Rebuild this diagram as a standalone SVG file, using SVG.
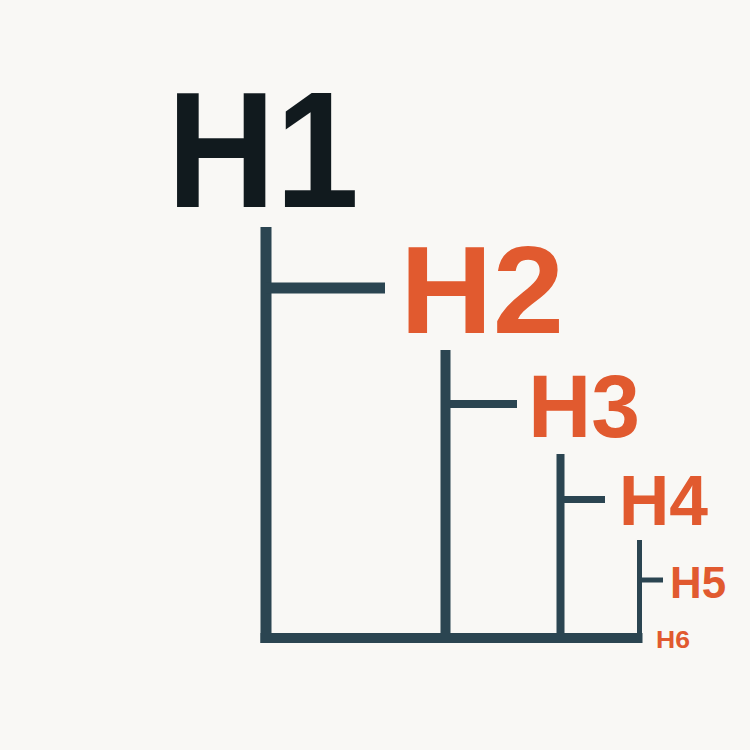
<svg xmlns="http://www.w3.org/2000/svg" width="750" height="750" viewBox="0 0 750 750">
<style>
.ln{stroke:#2b4551;fill:none;stroke-linecap:butt}
.t{font-family:"Liberation Sans",Arial,sans-serif;font-weight:bold}
.o{fill:#e15a2f}
</style>
<rect width="750" height="750" fill="#f9f8f5"/>
<g id="connectors">
<line class="ln" x1="266" y1="227" x2="266" y2="643" stroke-width="11"/>
<line class="ln" x1="266" y1="288" x2="385" y2="288" stroke-width="11"/>
<line class="ln" x1="445.5" y1="350" x2="445.5" y2="643" stroke-width="10"/>
<line class="ln" x1="445" y1="404" x2="517" y2="404" stroke-width="8"/>
<line class="ln" x1="560.5" y1="454" x2="560.5" y2="643" stroke-width="8"/>
<line class="ln" x1="560" y1="499.5" x2="605" y2="499.5" stroke-width="7"/>
<line class="ln" x1="639.5" y1="540" x2="639.5" y2="643" stroke-width="5"/>
<line class="ln" x1="639" y1="580" x2="663" y2="580" stroke-width="5"/>
<line class="ln" x1="260.5" y1="638" x2="642.5" y2="638" stroke-width="10"/>
</g>
<g id="h1"><text class="t" x="167" y="207" font-size="165" fill="#111a1e" textLength="192" lengthAdjust="spacingAndGlyphs">H1</text></g>
<g id="h2"><text class="t o" x="400" y="333" font-size="124" textLength="164" lengthAdjust="spacingAndGlyphs">H2</text></g>
<g id="h3"><text class="t o" x="528" y="437" font-size="89" textLength="112" lengthAdjust="spacingAndGlyphs">H3</text></g>
<g id="h4"><text class="t o" x="619" y="525" font-size="70" textLength="89" lengthAdjust="spacingAndGlyphs">H4</text></g>
<g id="h5"><text class="t o" x="670" y="598" font-size="45" textLength="56" lengthAdjust="spacingAndGlyphs">H5</text></g>
<g id="h6"><text class="t o" x="656" y="648" font-size="24" textLength="34" lengthAdjust="spacingAndGlyphs">H6</text></g>
</svg>
